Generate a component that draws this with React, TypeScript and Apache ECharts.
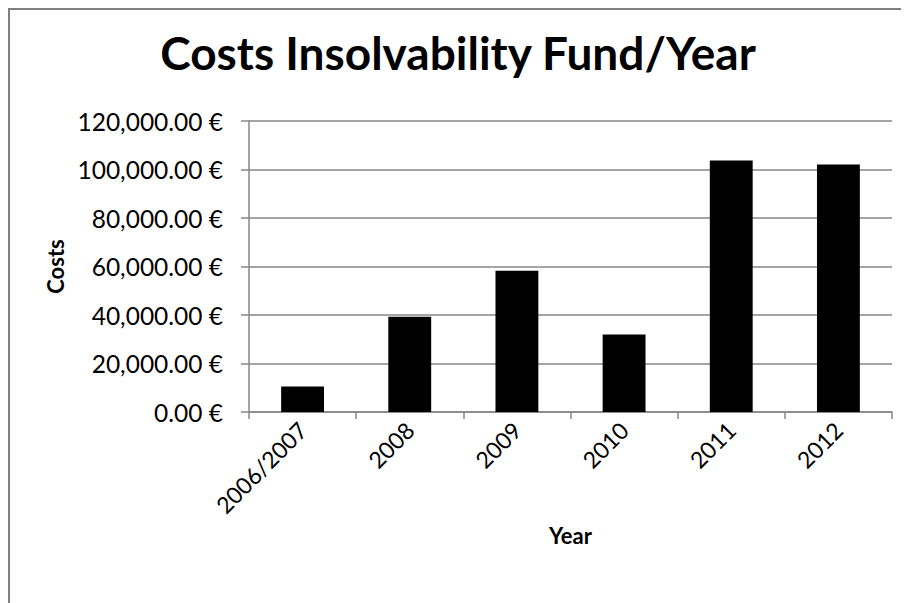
import React, { useEffect, useRef } from "react";
import * as echarts from "echarts";

const categories = ["2006/2007", "2008", "2009", "2010", "2011", "2012"];
const costs = [10500, 39300, 58200, 32000, 103700, 102100];
const yTicks = [0, 20000, 40000, 60000, 80000, 100000, 120000];

const FONT = "Lato, 'Open Sans', sans-serif";
const GRAY = "#878787";

function fmt(v: number): string {
  const s = v.toFixed(2);
  const [i, d] = s.split(".");
  return i.replace(/\B(?=(\d{3})+(?!\d))/g, ",") + "." + d + " €";
}

export default function App() {
  const ref = useRef<HTMLDivElement>(null);
  useEffect(() => {
    if (!ref.current) return;
    const chart = echarts.init(ref.current, undefined, { renderer: "svg" });
    chart.setOption({
      animation: false,
      backgroundColor: "#ffffff",
      title: {
        text: "Costs Insolvability Fund/Year",
        left: 445,
        top: 16,
        textAlign: "center",
        textStyle: { fontFamily: FONT, fontWeight: "bold", fontSize: 46, color: "#000" },
      },
      graphic: [
        {
          type: "rect",
          shape: { x: 1, y: 1, width: 3000, height: 3000 },
          style: { fill: "none", stroke: "#7f7f7f", lineWidth: 2 },
          silent: true,
        },
      ],
      grid: { left: 241, right: 17, top: 113, bottom: 191, containLabel: false },
      xAxis: {
        type: "category",
        data: categories,
        name: "Year",
        nameLocation: "middle",
        nameGap: 112,
        nameTextStyle: { fontFamily: FONT, fontWeight: "bold", fontSize: 22, color: "#000" },
        axisLine: { lineStyle: { color: GRAY, width: 1.5 } },
        axisTick: { show: true, length: 7, alignWithLabel: false, lineStyle: { color: GRAY, width: 1.5 } },
        axisLabel: {
          rotate: 45,
          interval: 0,
          margin: 14,
          fontFamily: FONT,
          fontSize: 23,
          color: "#000",
        },
      },
      yAxis: {
        type: "value",
        min: 0,
        max: 120000,
        interval: 20000,
        name: "Costs",
        nameLocation: "middle",
        nameGap: 170,
        nameRotate: 90,
        nameTextStyle: { fontFamily: FONT, fontWeight: "bold", fontSize: 22, color: "#000" },
        axisLine: { show: true, lineStyle: { color: GRAY, width: 1.5 } },
        axisTick: { show: true, length: 8, lineStyle: { color: GRAY, width: 1.5 } },
        splitLine: { show: true, lineStyle: { color: GRAY, width: 1.5 } },
        axisLabel: {
          margin: 26,
          fontFamily: FONT,
          fontSize: 24.5,
          color: "#000",
          formatter: (v: number) => (yTicks.includes(v) ? fmt(v) : ""),
        },
      },
      series: [
        {
          type: "bar",
          data: costs,
          barWidth: "40%",
          itemStyle: { color: "#000000" },
        },
      ],
    });
    return () => chart.dispose();
  }, []);
  return <div ref={ref} style={{ width: 901, height: 595 }} />;
}
